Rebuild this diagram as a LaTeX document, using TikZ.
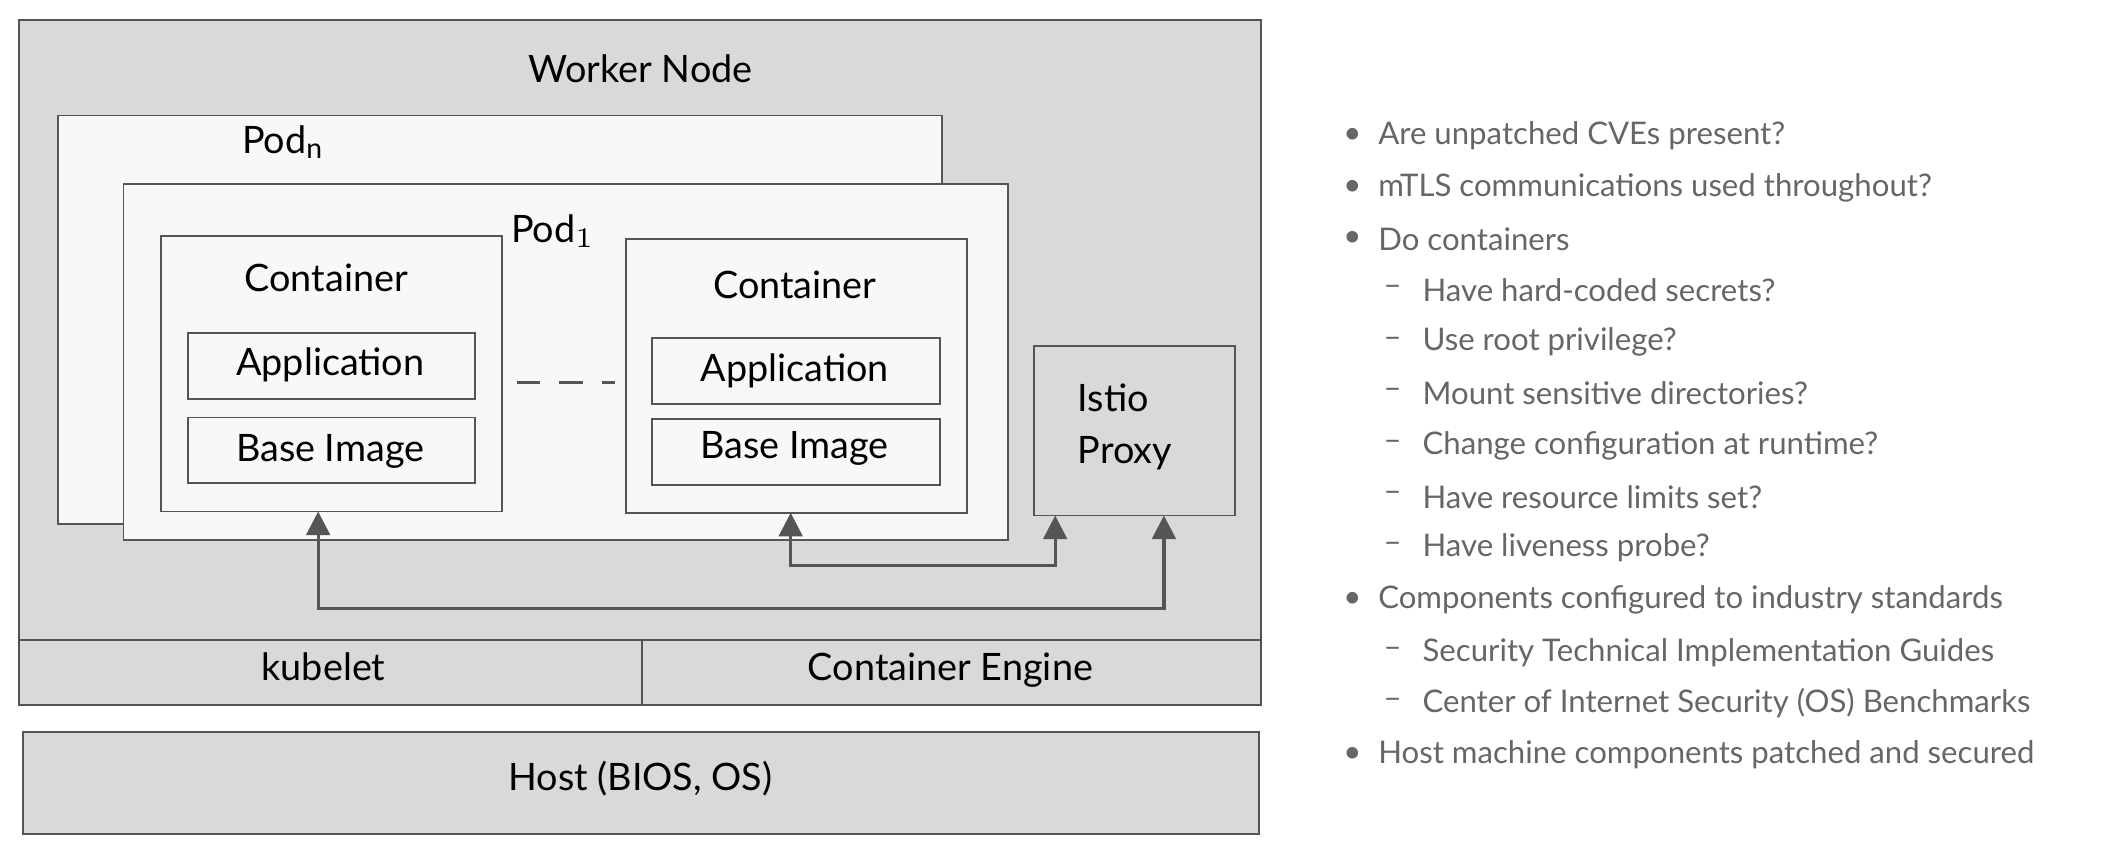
\documentclass[tikz,border=0pt]{standalone}
\usepackage{fontspec}
\setmainfont{Lato}
\usetikzlibrary{arrows.meta,calc}
\definecolor{wn}{HTML}{D9D9D9}
\definecolor{pod}{HTML}{F7F8F7}
\definecolor{ln}{HTML}{555555}
\definecolor{txt}{HTML}{666666}
\begin{document}
\begin{tikzpicture}[x=0.01cm,y=-0.01cm,
 box/.style={draw=ln,line width=0.4pt},
 lab/.style={font=\fontsize{8}{9}\selectfont,text=black,inner sep=0},
 arr/.style={draw=ln,line width=0.7pt,-{Triangle[length=5pt,width=5pt]}},
 bl/.style={anchor=west,font=\fontsize{6.6}{8}\selectfont,text=txt,inner sep=0}]
\useasboundingbox (0,0) rectangle (1568,638);
\path[box,fill=wn] (14,15) rectangle (939,477);
\node[lab] (wnl) at (477,51) {Worker Node};
\draw[box,fill=wn] (14,477) rectangle (478,525);
\draw[box,fill=wn] (478,477) rectangle (939,525);
\node[lab] (kub) at (241,497) {kubelet};
\node[lab] (ce) at (708,499) {Container Engine};
\draw[box,fill=wn] (17,545) rectangle (938,621);
\node[lab] (host) at (477,580) {Host (BIOS, OS)};
\draw[box,fill=pod] (43,86) rectangle (702,390);
\node[lab] (podn) at (211,106) {Pod$_{\mathrm n}$};
\draw[box,fill=pod] (92,137) rectangle (751,402);
\node[lab] (pod1) at (412,172) {Pod$_1$};
\draw[box,fill=pod] (120,176) rectangle (374,381);
\coordinate (c1) at (237,381);
\node[lab] at (243,207) {Container};
\draw[box,fill=pod] (140,248) rectangle (354,297);
\node[lab] at (246,272) {Application};
\draw[box,fill=pod] (140,311) rectangle (354,360);
\node[lab] at (246,336) {Base Image};
\draw[box,fill=pod] (466,178) rectangle (720,382);
\coordinate (c2) at (589,382);
\node[lab] at (592,212) {Container};
\draw[box,fill=pod] (486,252) rectangle (700,301);
\node[lab] at (592,276) {Application};
\draw[box,fill=pod] (486,312) rectangle (700,361);
\node[lab] at (592,334) {Base Image};
\draw[ln,line width=0.7pt,dash pattern=on 5pt off 4pt] (385,285) -- (458,285);
\draw[box,fill=wn] (770,258) rectangle (920,384);
\coordinate (ip1) at (786,384);
\coordinate (ip2) at (867,384);
\node[lab,align=left] (istio) at (838,318) {Istio\\[2pt]Proxy};
\coordinate (a1) at (237,453); \coordinate (a2) at (867,453);
\coordinate (b1) at (589,421); \coordinate (b2) at (786,421);
\draw[arr] (a2) -- (a1) -- (c1);
\draw[arr] (a1) -- (a2) -- (ip2);
\draw[arr] (b2) -- (b1) -- (c2);
\draw[arr] (b1) -- (b2) -- (ip1);
\foreach \y/\t in {101/Are unpatched CVEs present?,140/mTLS communications used throughout?,178/Do containers,447/Components configured to industry standards,562/Host machine components patched and secured}
 {\node[bl] at (1000,\y) {\textbullet}; \node[bl] at (1026,\y) {\t};}
\foreach \y/\t in {216/Have hard-coded secrets?,255/Use root privilege?,293/Mount sensitive directories?,332/Change configuration at runtime?,370/Have resource limits set?,408/Have liveness probe?,486/Security Technical Implementation Guides,524/Center of Internet Security (OS) Benchmarks}
 {\node[bl] at (1030,\y) {--}; \node[bl] at (1059,\y) {\t};}
\end{tikzpicture}
\end{document}
